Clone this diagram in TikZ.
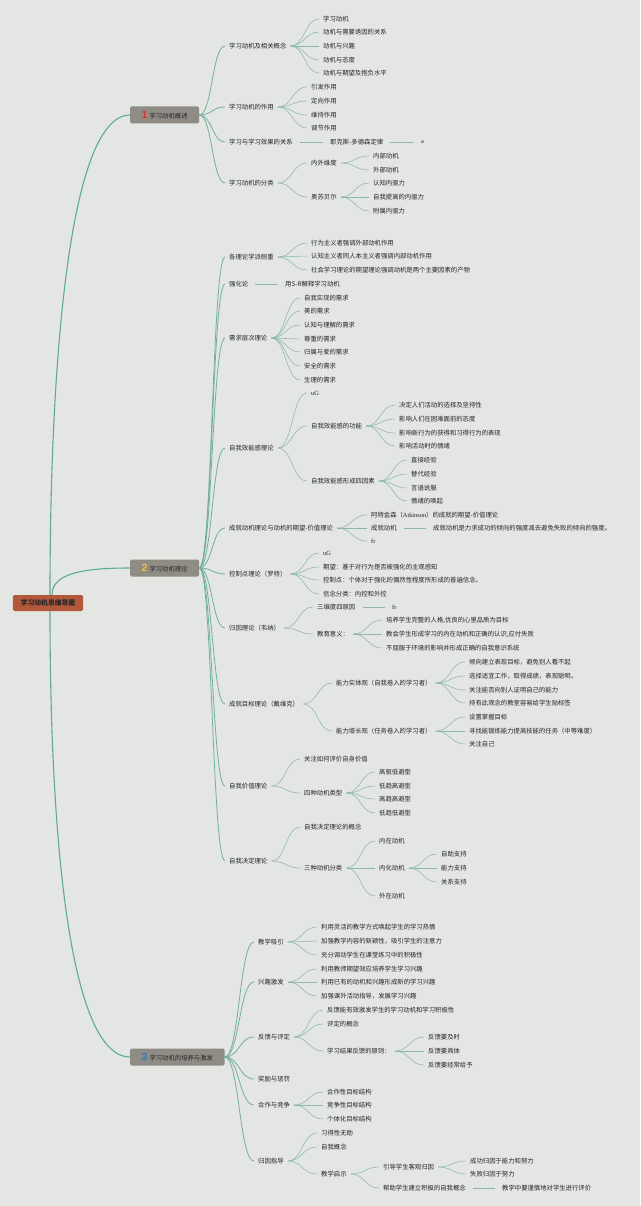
\documentclass[tikz,border=0pt]{standalone}
\usepackage{fontspec}
\setmainfont{Noto Sans CJK SC}
\newfontfamily\latf{Liberation Serif}
\newfontfamily\numf{Liberation Sans}
\usetikzlibrary{calc}
\definecolor{bg}{RGB}{228,230,227}
\definecolor{txt}{RGB}{35,35,35}
\definecolor{l0}{RGB}{95,170,150}
\definecolor{l1}{RGB}{115,176,156}
\definecolor{l2}{RGB}{140,184,168}
\definecolor{rootc}{RGB}{180,88,60}
\definecolor{brc}{RGB}{143,140,133}
\definecolor{n1}{RGB}{215,55,45}
\definecolor{n2}{RGB}{240,194,60}
\definecolor{n3}{RGB}{50,120,200}
\newcommand\fs{\fontsize{6.35}{7.5}\selectfont}
\newcommand\numtx[2]{{\numf\bfseries\fontsize{10.5}{10.5}\selectfont\color{#1}#2}\hspace{2pt}}
\tikzset{
 t/.style={anchor=west, inner xsep=4pt, inner ysep=1pt, xshift=-4pt, text=txt, font=\fs},
 lat/.style={t, font=\fs\latf},
 rootbox/.style={fill=rootc, rounded corners=1.5pt, text=black!85, font=\fontsize{6.8}{8}\selectfont\bfseries, minimum height=16pt, inner xsep=8pt},
 brbox/.style={anchor=west, fill=brc, rounded corners=1.5pt, text=black!85, font=\fs, minimum height=17pt, inner xsep=11.5pt},
 k0/.style={draw=l0, line width=1.1pt},
 k1/.style={draw=l1, line width=0.8pt},
 k2/.style={draw=l2, line width=0.55pt},
 st/.style={k2, shorten <=3pt, shorten >=3pt},
}
\newcommand\cc[3][k2]{\draw[#1] let \p1=(#2.east), \p2=(#3.west) in (\p1) .. controls ({0.5*\x1+0.5*\x2},\y1) and ({0.5*\x1+0.5*\x2},\y2) .. (\p2);}
\newcommand\ccs[3][k2]{\foreach \cn in {#3}{\cc[#1]{#2}{\cn}}}
\newcommand\sline[2]{\draw[st] (#1.east) -- (#2.west);}
\begin{document}
\begin{tikzpicture}[x=1pt,y=-1pt]
\fill[bg] (0,0) rectangle (640,1206);
\useasboundingbox (0,0) rectangle (640,1206);
% root and branches
\node[rootbox] (root) at (48,603) {学习动机思维导图};
\node[brbox] (b1) at (130,115) {\numtx{n1}{1}学习动机概述};
\node[brbox] (b2) at (130,568) {\numtx{n2}{2}学习动机理论};
\node[brbox] (b3) at (130,1057) {\numtx{n3}{3}学习动机的培养与激发};
\draw[k0] ([xshift=2pt]root.north) .. controls +(0,-240) and +(-60,0) .. (b1.west);
\draw[k0] ([xshift=4pt]root.north) .. controls +(0,-22) and +(-45,0) .. (b2.west);
\draw[k0] ([xshift=2pt]root.south) .. controls +(0,230) and +(-60,0) .. (b3.west);
% ---------- branch 1
\node[t] (a1) at (229,46) {学习动机及相关概念};
\node[t] (a2) at (229,107) {学习动机的作用};
\node[t] (a3) at (229,142) {学习与学习效果的关系};
\node[t] (a4) at (229,183) {学习动机的分类};
\ccs[k1]{b1}{a1,a2,a3,a4}
\node[t] (a11) at (323,19) {学习动机};
\node[t] (a12) at (323,32) {动机与需要诱因的关系};
\node[t] (a13) at (323,46) {动机与兴趣};
\node[t] (a14) at (323,60) {动机与态度};
\node[t] (a15) at (323,73) {动机与期望及抱负水平};
\ccs{a1}{a11,a12,a13,a14,a15}
\node[t] (a21) at (311,87) {引发作用};
\node[t] (a22) at (311,101) {定向作用};
\node[t] (a23) at (311,115) {维持作用};
\node[t] (a24) at (311,128) {调节作用};
\ccs{a2}{a21,a22,a23,a24}
\node[t] (a31) at (330,142) {耶克斯-多德森定律};
\node[lat] (a32) at (421,142) {a};
\sline{a3}{a31}\sline{a31}{a32}
\node[t] (a41) at (311,163) {内外维度};
\node[t] (a42) at (311,197) {奥苏贝尔};
\ccs{a4}{a41,a42}
\node[t] (a411) at (373,156) {内部动机};
\node[t] (a412) at (373,170) {外部动机};
\ccs{a41}{a411,a412}
\node[t] (a421) at (373,183) {认知内驱力};
\node[t] (a422) at (373,197) {自我提高的内驱力};
\node[t] (a423) at (373,211) {附属内驱力};
\ccs{a42}{a421,a422,a423}
% ---------- branch 2
\node[t] (c1) at (229,257) {各理论学派侧重};
\node[t] (c2) at (229,284) {强化论};
\node[t] (c3) at (229,338) {需求层次理论};
\node[t] (c4) at (229,448) {自我效能感理论};
\node[t] (c5) at (229,528) {成就动机理论与动机的期望-价值理论};
\node[t] (c6) at (229,574) {控制点理论（罗特）};
\node[t] (c7) at (229,628) {归因理论（韦纳）};
\node[t] (c8) at (229,704) {成就目标理论（戴维克）};
\node[t] (c9) at (229,786) {自我价值理论};
\node[t] (c10) at (229,861) {自我决定理论};
\ccs[k1]{b2}{c1,c2,c3,c4,c5,c6,c7,c8,c9,c10}
\node[t] (c11) at (311,243) {行为主义者强调外部动机作用};
\node[t] (c12) at (311,256) {认知主义者同人本主义者强调内部动机作用};
\node[t] (c13) at (311,270) {社会学习理论的期望理论强调动机是两个主要因素的产物};
\ccs{c1}{c11,c12,c13}
\node[t] (c21) at (285,284) {用S-R解释学习动机};
\sline{c2}{c21}
\node[t] (c31) at (304,298) {自我实现的需求};
\node[t] (c32) at (304,311) {美的需求};
\node[t] (c33) at (304,325) {认知与理解的需求};
\node[t] (c34) at (304,339) {尊重的需求};
\node[t] (c35) at (304,352) {归属与爱的需求};
\node[t] (c36) at (304,366) {安全的需求};
\node[t] (c37) at (304,380) {生理的需求};
\ccs{c3}{c31,c32,c33,c34,c35,c36,c37}
\node[lat] (c41) at (311,393) {uG};
\node[t] (c42) at (311,426) {自我效能感的功能};
\node[t] (c43) at (311,481) {自我效能感形成四因素};
\ccs{c4}{c41,c42,c43}
\node[t] (c421) at (399,405) {决定人们活动的选择及坚持性};
\node[t] (c422) at (399,419) {影响人们在困难面前的态度};
\node[t] (c423) at (399,433) {影响新行为的获得和习得行为的表现};
\node[t] (c424) at (399,446) {影响活动时的情绪};
\ccs{c42}{c421,c422,c423,c424}
\node[t] (c431) at (411,460) {直接经验};
\node[t] (c432) at (411,474) {替代经验};
\node[t] (c433) at (411,488) {言语说服};
\node[t] (c434) at (411,501) {情绪的唤起};
\ccs{c43}{c431,c432,c433,c434}
\node[t] (c51) at (371,515) {阿特金森（{\latf Atkinson}）的成就的期望-价值理论};
\node[t] (c52) at (371,528) {成就动机};
\node[lat] (c53) at (371,541) {fr};
\ccs{c5}{c51,c52,c53}
\node[t] (c521) at (433,528) {成就动机是力求成功的倾向的强度减去避免失败的倾向的强度。};
\sline{c52}{c521}
\node[lat] (c61) at (323,553) {uG};
\node[t] (c62) at (323,567) {期望：基于对行为是否被强化的主观感知};
\node[t] (c63) at (323,580) {控制点：个体对于强化的偶然性程度所形成的普遍信念。};
\node[t] (c64) at (323,594) {信念分类：内控和外控};
\ccs{c6}{c61,c62,c63,c64}
\node[t] (c71) at (317,607) {三维度四原因};
\node[t] (c72) at (317,634) {教育意义：};
\ccs{c7}{c71,c72}
\node[lat] (c711) at (392,607) {fr};
\sline{c71}{c711}
\node[t] (c721) at (386,620) {培养学生完整的人格,优良的心里品质为目标};
\node[t] (c722) at (386,634) {教会学生形成学习的内在动机和正确的认识,应付失败};
\node[t] (c723) at (386,648) {不屈服于环境的影响并形成正确的自我意识系统};
\ccs{c72}{c721,c722,c723}
\node[t] (c81) at (336,683) {能力实体观（自我卷入的学习者）};
\node[t] (c82) at (336,731) {能力增长观（任务卷入的学习者）};
\ccs{c8}{c81,c82}
\node[t] (c811) at (469,662) {倾向建立表现目标，避免别人看不起};
\node[t] (c812) at (469,676) {选择适宜工作，取得成绩，表现聪明。};
\node[t] (c813) at (469,690) {关注能否向别人证明自己的能力};
\node[t] (c814) at (469,703) {持有此观念的教室容易给学生贴标签};
\ccs{c81}{c811,c812,c813,c814}
\node[t] (c821) at (469,717) {设置掌握目标};
\node[t] (c822) at (469,731) {寻找能锻炼能力提高技能的任务（中等难度）};
\node[t] (c823) at (469,744) {关注自己};
\ccs{c82}{c821,c822,c823}
\node[t] (c91) at (304,759) {关注如何评价自身价值};
\node[t] (c92) at (304,793) {四种动机类型};
\ccs{c9}{c91,c92}
\node[t] (c921) at (379,772) {高驱低避型};
\node[t] (c922) at (379,786) {低趋高避型};
\node[t] (c923) at (379,799) {高趋高避型};
\node[t] (c924) at (379,813) {低趋低避型};
\ccs{c92}{c921,c922,c923,c924}
\node[t] (c101) at (304,827) {自我决定理论的概念};
\node[t] (c102) at (304,868) {三种动机分类};
\ccs{c10}{c101,c102}
\node[t] (c1021) at (379,841) {内在动机};
\node[t] (c1022) at (379,868) {内化动机};
\node[t] (c1023) at (379,896) {外在动机};
\ccs{c102}{c1021,c1022,c1023}
\node[t] (c10221) at (441,854) {自助支持};
\node[t] (c10222) at (441,868) {能力支持};
\node[t] (c10223) at (441,882) {关系支持};
\ccs{c1022}{c10221,c10222,c10223}
% ---------- branch 3
\node[t] (d1) at (258,942) {教学吸引};
\node[t] (d2) at (258,982) {兴趣激发};
\node[t] (d3) at (258,1037) {反馈与评定};
\node[t] (d4) at (258,1079) {奖励与惩罚};
\node[t] (d5) at (258,1105) {合作与竞争};
\node[t] (d6) at (258,1161) {归因指导};
\ccs[k1]{b3}{d1,d2,d3,d4,d5,d6}
\node[t] (d11) at (321,927) {利用灵活的教学方式唤起学生的学习热情};
\node[t] (d12) at (321,941) {加强教学内容的新颖性，吸引学生的注意力};
\node[t] (d13) at (321,955) {充分调动学生在课堂练习中的积极性};
\ccs{d1}{d11,d12,d13}
\node[t] (d21) at (321,969) {利用教师期望效应培养学生学习兴趣};
\node[t] (d22) at (321,982) {利用已有的动机和兴趣形成新的学习兴趣};
\node[t] (d23) at (321,996) {加强课外活动指导，发展学习兴趣};
\ccs{d2}{d21,d22,d23}
\node[t] (d31) at (327,1010) {反馈能有效激发学生的学习动机和学习积极性};
\node[t] (d32) at (327,1024) {评定的概念};
\node[t] (d33) at (327,1051) {学习结果反馈的原则：};
\ccs{d3}{d31,d32,d33}
\node[t] (d331) at (428,1037) {反馈要及时};
\node[t] (d332) at (428,1051) {反馈要具体};
\node[t] (d333) at (428,1065) {反馈要经常给予};
\ccs{d33}{d331,d332,d333}
\node[t] (d51) at (327,1092) {合作性目标结构};
\node[t] (d52) at (327,1105) {竞争性目标结构};
\node[t] (d53) at (327,1119) {个体化目标结构};
\ccs{d5}{d51,d52,d53}
\node[t] (d61) at (321,1133) {习得性无助};
\node[t] (d62) at (321,1147) {自我概念};
\node[t] (d63) at (321,1174) {教学启示};
\ccs{d6}{d61,d62,d63}
\node[t] (d631) at (383,1167) {引导学生客观归因};
\node[t] (d632) at (383,1188) {帮助学生建立积极的自我概念};
\ccs{d63}{d631,d632}
\node[t] (d6311) at (470,1161) {成功归因于能力和努力};
\node[t] (d6312) at (470,1174) {失败归因于努力};
\ccs{d631}{d6311,d6312}
\node[t] (d6321) at (502,1188) {教学中要谨慎地对学生进行评价};
\sline{d632}{d6321}
\end{tikzpicture}
\end{document}
